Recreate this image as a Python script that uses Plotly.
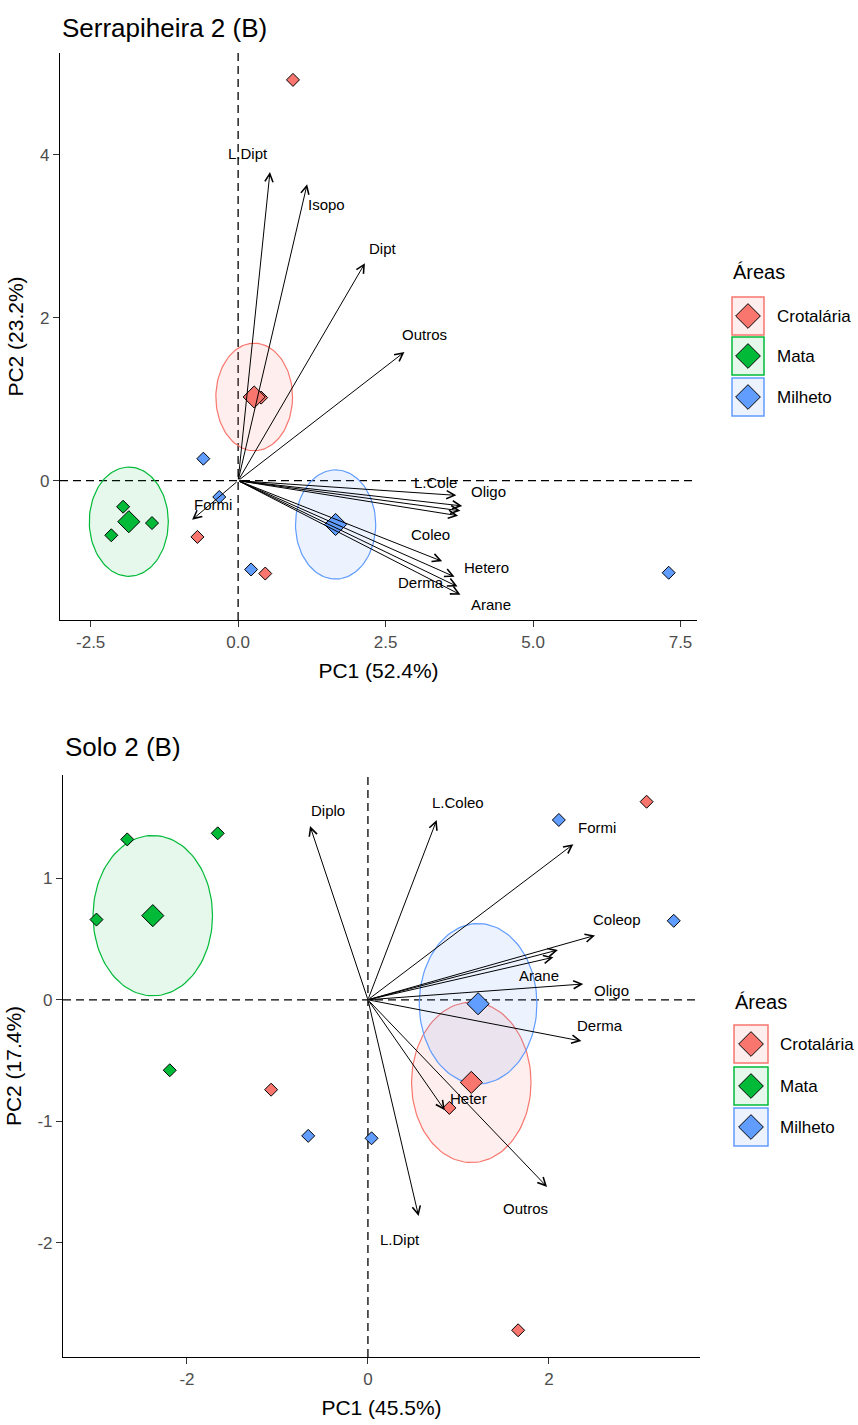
import numpy as np
import plotly.graph_objects as go

# ---------------- data ----------------
groups = ["Crotalária", "Mata", "Milheto"]
group_colors = ["#F8766D", "#00BA38", "#619CFF"]
group_fills = ["rgba(248,118,109,0.12)", "rgba(0,186,56,0.10)", "rgba(97,156,255,0.12)"]

# Panel 1: Serrapiheira 2 (B)
s_title = "Serrapiheira 2 (B)"
s_xlab = "PC1 (52.4%)"
s_ylab = "PC2 (23.2%)"
s_crot_x = [0.93, -0.69, 0.46, 0.39]
s_crot_y = [4.92, -0.69, -1.14, 1.02]
s_mata_x = [-1.95, -1.46, -2.15]
s_mata_y = [-0.32, -0.52, -0.67]
s_milh_x = [-0.59, -0.32, 0.22, 7.30]
s_milh_y = [0.27, -0.20, -1.09, -1.13]
s_ell_rx = [0.65, 0.67, 0.68]
s_ell_ry = [0.66, 0.67, 0.67]
s_var_names = ["L.Dipt", "Isopo", "Dipt", "Outros", "L.Cole", "Oligo", None, None,
               "Coleo", "Hetero", "Derma", "Arane", "Formi"]
s_var_x = [0.54, 1.17, 2.15, 2.82, 3.70, 3.80, 3.77, 3.73, 3.46, 3.67, 3.72, 3.77, -0.78]
s_var_y = [3.79, 3.64, 2.67, 1.58, -0.18, -0.31, -0.37, -0.43, -0.99, -1.18, -1.30, -1.40, -0.48]
s_lab_x = [0.17, 1.50, 2.45, 3.16, 3.35, 4.25, None, None, 3.27, 4.21, 3.10, 4.29, -0.42]
s_lab_y = [4.02, 3.39, 2.85, 1.80, -0.02, -0.13, None, None, -0.66, -1.06, -1.25, -1.52, -0.29]
s_xticks = [-2.5, 0.0, 2.5, 5.0, 7.5]
s_xticklabels = ["-2.5", "0.0", "2.5", "5.0", "7.5"]
s_yticks = [0, 2, 4]
s_yticklabels = ["0", "2", "4"]
s_xrange = [-3.02, 7.78]
s_yrange = [-1.71, 5.25]

# Panel 2: Solo 2 (B)
o_title = "Solo 2 (B)"
o_xlab = "PC1 (45.5%)"
o_ylab = "PC2 (17.4%)"
o_crot_x = [3.08, -1.07, 0.90, 1.66]
o_crot_y = [1.63, -0.74, -0.89, -2.72]
o_mata_x = [-3.00, -2.66, -1.66, -2.19]
o_mata_y = [0.66, 1.32, 1.37, -0.58]
o_milh_x = [2.11, 3.38, -0.66, 0.04]
o_milh_y = [1.48, 0.65, -1.12, -1.14]
o_ell_rx = [0.66, 0.66, 0.65]
o_ell_ry = [0.66, 0.66, 0.66]
o_var_names = ["Diplo", "L.Coleo", "Formi", "Coleop", "Arane", None, "Oligo", "Derma",
               "Heter", "Outros", "L.Dipt"]
o_var_x = [-0.64, 0.76, 2.27, 2.51, 2.10, 2.05, 2.38, 2.36, 0.85, 1.98, 0.56]
o_var_y = [1.43, 1.48, 1.28, 0.53, 0.41, 0.35, 0.13, -0.34, -0.91, -1.54, -1.78]
o_lab_x = [-0.44, 1.00, 2.53, 2.75, 1.89, None, 2.69, 2.56, 1.11, 1.74, 0.35]
o_lab_y = [1.56, 1.62, 1.42, 0.66, 0.20, None, 0.08, -0.21, -0.81, -1.72, -1.97]
o_xticks = [-2, 0, 2]
o_xticklabels = ["-2", "0", "2"]
o_yticks = [-2, -1, 0, 1]
o_yticklabels = ["-2", "-1", "0", "1"]
o_xrange = [-3.37, 3.67]
o_yrange = [-2.94, 1.85]

legend_title = "Áreas"

# ---------------- figure ----------------
W, H = 858, 1425
FONT = "Liberation Sans, Arial, sans-serif"
fig = go.Figure()


def ellipse_xy(cx, cy, rx, ry, n=120):
    t = np.linspace(0, 2 * np.pi, n)
    return cx + rx * np.cos(t), cy + ry * np.sin(t)


panels = [
    dict(xa="x", ya="y", pts=[(s_crot_x, s_crot_y), (s_mata_x, s_mata_y), (s_milh_x, s_milh_y)],
         rx=s_ell_rx, ry=s_ell_ry, names=s_var_names, vx=s_var_x, vy=s_var_y,
         lx=s_lab_x, ly=s_lab_y),
    dict(xa="x2", ya="y2", pts=[(o_crot_x, o_crot_y), (o_mata_x, o_mata_y), (o_milh_x, o_milh_y)],
         rx=o_ell_rx, ry=o_ell_ry, names=o_var_names, vx=o_var_x, vy=o_var_y,
         lx=o_lab_x, ly=o_lab_y),
]

annotations = []
shapes = []

for p in panels:
    means = [(float(np.mean(px)), float(np.mean(py))) for px, py in p["pts"]]
    # ellipses
    for g, (cx, cy) in enumerate(means):
        ex, ey = ellipse_xy(cx, cy, p["rx"][g], p["ry"][g])
        fig.add_trace(go.Scatter(x=ex, y=ey, mode="lines", fill="toself",
                                 fillcolor=group_fills[g],
                                 line=dict(color=group_colors[g], width=1.2),
                                 xaxis=p["xa"], yaxis=p["ya"], showlegend=False,
                                 hoverinfo="skip"))
    # individual points
    for g, (px, py) in enumerate(p["pts"]):
        fig.add_trace(go.Scatter(x=px, y=py, mode="markers", name=groups[g],
                                 marker=dict(symbol="diamond", size=10, color=group_colors[g],
                                             line=dict(color="black", width=1)),
                                 xaxis=p["xa"], yaxis=p["ya"], showlegend=False))
    # group means
    for g, (cx, cy) in enumerate(means):
        fig.add_trace(go.Scatter(x=[cx], y=[cy], mode="markers", name=groups[g],
                                 marker=dict(symbol="diamond", size=17, color=group_colors[g],
                                             line=dict(color="black", width=1)),
                                 xaxis=p["xa"], yaxis=p["ya"], showlegend=False))
    # zero lines
    shapes.append(dict(type="line", xref=p["xa"] + " domain", x0=0, x1=1, yref=p["ya"], y0=0, y1=0,
                       line=dict(color="black", width=1.3, dash="8px,5px"), layer="below"))
    shapes.append(dict(type="line", xref=p["xa"], x0=0, x1=0, yref=p["ya"] + " domain", y0=0, y1=1,
                       line=dict(color="black", width=1.3, dash="8px,5px"), layer="below"))
    # variable arrows
    for i in range(len(p["vx"])):
        annotations.append(dict(x=p["vx"][i], y=p["vy"][i], ax=0, ay=0,
                                xref=p["xa"], yref=p["ya"], axref=p["xa"], ayref=p["ya"],
                                text="", showarrow=True, arrowhead=5, arrowsize=1.6,
                                arrowwidth=1, arrowcolor="black", standoff=0))
        if p["names"][i] is not None:
            annotations.append(dict(x=p["lx"][i], y=p["ly"][i], xref=p["xa"], yref=p["ya"],
                                    text=p["names"][i], showarrow=False,
                                    font=dict(family=FONT, size=15, color="black"),
                                    xanchor="center", yanchor="middle"))

# titles
annotations.append(dict(x=60 / W, y=1 - 28 / H, xref="paper", yref="paper", text=s_title,
                        showarrow=False, xanchor="left", yanchor="middle",
                        font=dict(family=FONT, size=26, color="black")))
annotations.append(dict(x=63 / W, y=1 - 747 / H, xref="paper", yref="paper", text=o_title,
                        showarrow=False, xanchor="left", yanchor="middle",
                        font=dict(family=FONT, size=26, color="black")))

# ---------------- manual legends (overlay pixel axis) ----------------
legend_specs = [
    dict(title_xy=(731, 272), box_x=(732, 764), centers=[316, 356, 397], text_x=775),
    dict(title_xy=(733, 1002), box_x=(734, 768), centers=[1044, 1086, 1127], text_x=778),
]
for spec in legend_specs:
    annotations.append(dict(x=spec["title_xy"][0], y=spec["title_xy"][1], xref="x3", yref="y3",
                            text=legend_title, showarrow=False, xanchor="left", yanchor="middle",
                            font=dict(family=FONT, size=20, color="black")))
    for g, c in enumerate(spec["centers"]):
        shapes.append(dict(type="rect", xref="x3", yref="y3", x0=spec["box_x"][0], x1=spec["box_x"][1],
                           y0=c - 19, y1=c + 19, fillcolor=group_fills[g],
                           line=dict(color=group_colors[g], width=1.5), layer="below"))
        annotations.append(dict(x=spec["text_x"], y=c, xref="x3", yref="y3", text=groups[g],
                                showarrow=False, xanchor="left", yanchor="middle",
                                font=dict(family=FONT, size=17, color="black")))
    fig.add_trace(go.Scatter(x=[(spec["box_x"][0] + spec["box_x"][1]) / 2] * 3, y=spec["centers"],
                             mode="markers", xaxis="x3", yaxis="y3", showlegend=False,
                             hoverinfo="skip",
                             marker=dict(symbol="diamond", size=19, color=group_colors,
                                         line=dict(color="black", width=1))))

axis_common = dict(showline=True, linecolor="black", linewidth=1.2, ticks="outside",
                   ticklen=6, tickwidth=1.1, tickcolor="#333333", showgrid=False, zeroline=False,
                   tickfont=dict(family=FONT, size=17, color="#4D4D4D"),
                   title_font=dict(family=FONT, size=21, color="black"))

fig.update_layout(
    width=W, height=H, autosize=False,
    margin=dict(l=0, r=0, t=0, b=0),
    paper_bgcolor="white", plot_bgcolor="rgba(0,0,0,0)",
    showlegend=False,
    xaxis=dict(domain=[60 / W, 697 / W], range=s_xrange, anchor="y",
               tickvals=s_xticks, ticktext=s_xticklabels,
               title=dict(text=s_xlab, standoff=12), **axis_common),
    yaxis=dict(domain=[1 - 620 / H, 1 - 53 / H], range=s_yrange, anchor="x",
               tickvals=s_yticks, ticktext=s_yticklabels,
               title=dict(text=s_ylab, standoff=10), **axis_common),
    xaxis2=dict(domain=[63 / W, 700 / W], range=o_xrange, anchor="y2",
                tickvals=o_xticks, ticktext=o_xticklabels,
                title=dict(text=o_xlab, standoff=12), **axis_common),
    yaxis2=dict(domain=[1 - 1357 / H, 1 - 775 / H], range=o_yrange, anchor="x2",
                tickvals=o_yticks, ticktext=o_yticklabels,
                title=dict(text=o_ylab, standoff=10), **axis_common),
    xaxis3=dict(domain=[0, 1], range=[0, W], anchor="y3", visible=False, fixedrange=True),
    yaxis3=dict(domain=[0, 1], range=[H, 0], anchor="x3", visible=False, fixedrange=True),
    annotations=annotations,
    shapes=shapes,
)

fig.write_html("out.html", config={"displayModeBar": False},
               post_script="document.body.style.margin='0';document.body.style.overflow='hidden';")
